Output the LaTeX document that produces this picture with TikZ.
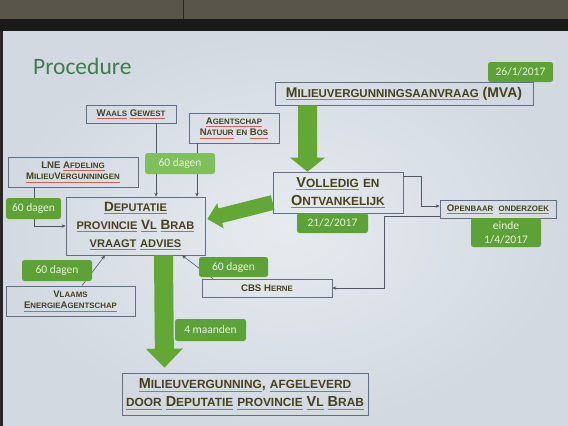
\documentclass[tikz,border=0pt]{standalone}
\usepackage{fontspec}
\setmainfont{Liberation Sans}
\newfontfamily\calfont{Carlito}
\usetikzlibrary{calc,arrows.meta}
\makeatletter
\newdimen\scdim
\newcommand\sm[1]{{\scdim=\f@size pt\scdim=0.82\scdim\fontsize{\the\scdim}{\the\scdim}\selectfont #1}}
\makeatother
\definecolor{bandc}{HTML}{58554A}
\definecolor{txt}{HTML}{45421C}
\definecolor{gfill}{HTML}{5DA236}
\definecolor{gfilllight}{HTML}{80C05C}
\definecolor{gtext}{HTML}{EAF4E2}
\definecolor{agreen}{HTML}{63A834}
\definecolor{bordc}{HTML}{5F6F86}
\definecolor{conc}{HTML}{505860}
\definecolor{titlec}{HTML}{3F7D4E}
\definecolor{slidein}{HTML}{E6EBEF}
\definecolor{slideout}{HTML}{D2D9E1}
\definecolor{redul}{HTML}{D0605A}
\newcommand\ul[1]{\leavevmode\setbox0\hbox{#1}\rlap{\raisebox{-2.2pt}{\color{redul}\rule{\wd0}{0.5pt}}}\box0\relax}
\newcommand\bigarrow[5]{%
  \coordinate (bahc) at ($(#2)!#5!(#1)$);
  \fill[garrow] ($(#1)!#3!90:(#2)$) -- ($(bahc)!#3!90:(#2)$) -- ($(bahc)!#4!90:(#2)$) -- (#2)
     -- ($(bahc)!#4!-90:(#2)$) -- ($(bahc)!#3!-90:(#2)$) -- ($(#1)!#3!-90:(#2)$) -- cycle;}
\begin{document}
\begin{tikzpicture}[x=1pt,y=-1pt,
  box/.style={draw=bordc, line width=0.7pt, align=center, text=txt, inner sep=0pt},
  smallbox/.style={box, font=\bfseries\fontsize{9.6}{11.5}\selectfont},
  gbox/.style={fill=gfill, rounded corners=2.5pt, text=gtext, inner sep=0pt, align=center,
    font=\calfont\fontsize{11.5}{13.5}\selectfont},
  con/.style={draw=conc, line width=0.6pt, -{Stealth[length=4pt,width=3.5pt]}},
  garrow/.style={fill=agreen}]
\useasboundingbox (0,0) rectangle (568,426);
% background
\fill[bandc] (0,0) rectangle (568,20);
\draw[black!85, line width=1pt] (183,0) -- (183,19);
\fill[black!90] (0,19) rectangle (568,31);
\fill[black!85] (0,31) rectangle (3,426);
\shade[inner color=slidein, outer color=slideout] (3,31) rectangle (568,426);
% title
\node[font=\calfont\fontsize{23.5}{28}\selectfont, text=titlec, anchor=base west, inner sep=0pt] (title) at (33,74) {Procedure};
% boxes
\node[box, minimum width=258pt, minimum height=23pt, font=\bfseries\fontsize{14}{16}\selectfont] (mva) at (404,93.5) {\ul{M\sm{ILIEUVERGUNNINGSAANVRAAG}} (MVA)};
\node[box, minimum width=130pt, minimum height=41pt, font=\bfseries\fontsize{14.5}{17.5}\selectfont] (vol) at (338,192.5) {\ul{V\sm{OLLEDIG}} \sm{EN}\\\ul{O\sm{NTVANKELIJK}}};
\node[smallbox, minimum width=116pt, minimum height=18pt] (open) at (498,209) {\ul{O\sm{PENBAAR}}\ \ \ul{\sm{ONDERZOEK}}};
\node[box, minimum width=139pt, minimum height=58pt, font=\bfseries\fontsize{13.5}{18}\selectfont] (dep) at (135.5,226) {\ul{D\sm{EPUTATIE}}\\\ul{\sm{PROVINCIE}} \ul{V\sm{L}} \ul{B\sm{RAB}}\\\ul{\sm{VRAAGT}} \ul{\sm{ADVIES}}};
\node[smallbox, minimum width=90pt, minimum height=18pt] (waals) at (131,114) {\ul{W\sm{AALS}} \ul{G\sm{EWEST}}};
\node[smallbox, minimum width=90pt, minimum height=30pt] (agent) at (234,128) {\ul{A\sm{GENTSCHAP}}\\\ul{N\sm{ATUUR}} \sm{EN} \ul{B\sm{OS}}};
\node[smallbox, minimum width=130pt, minimum height=30pt] (lne) at (73,172) {LNE \ul{A\sm{FDELING}}\\\ul{M\sm{ILIEU}V\sm{ERGUNNINGEN}}};
\node[smallbox, minimum width=129pt, minimum height=30pt] (vea) at (70.5,301) {V\sm{LAAMS}\\\ul{E\sm{NERGIE}A\sm{GENTSCHAP}}};
\node[smallbox, minimum width=130pt, minimum height=18pt] (cbs) at (267,288) {CBS H\sm{ERNE}};
\node[box, minimum width=246pt, minimum height=42pt, font=\bfseries\fontsize{14.5}{18}\selectfont] (final) at (245,394) {\ul{M\sm{ILIEUVERGUNNING}}, \ul{\sm{AFGELEVERD}}\\\ul{\sm{DOOR}} \ul{D\sm{EPUTATIE}} \ul{\sm{PROVINCIE}} \ul{V\sm{L}} \ul{B\sm{RAB}}};
% thin connectors
\coordinate (w1) at ([xshift=25pt]waals.south);
\draw[con] (w1) -- (w1 |- dep.north);
\coordinate (a1) at ([xshift=-37pt]agent.south);
\draw[con] (a1) -- (a1 |- dep.north);
\coordinate (l1) at ([xshift=-39pt]lne.south);
\draw[con] (l1) |- (dep.west);
\coordinate (v1) at ([xshift=11.5pt]vea.north);
\coordinate (v2) at ([xshift=-30.5pt]dep.south);
\draw[con] (v1) -- (v2);
\coordinate (c1) at ([xshift=-54pt]cbs.north);
\coordinate (c2) at ([xshift=46.5pt]dep.south);
\draw[con] (c1) -- (c2);
\coordinate (o1) at ([yshift=16.5pt]vol.east);
\coordinate (o2) at ([yshift=3pt]open.west);
\draw[con] (o1) -- ++(18,0) |- (o2);
\coordinate (o3) at ([yshift=-7pt]open.west);
\draw[con] (o3) -- ++(-55,0) |- (cbs.east);
% green labels
\node[gbox, minimum width=65pt, minimum height=20pt] (d26) at (520.5,72) {26/1/2017};
\node[gbox, minimum width=71pt, minimum height=20pt] (d21) at (332.5,223) {21/2/2017};
\node[gbox, minimum width=70pt, minimum height=29pt, font=\calfont\fontsize{11.5}{14.5}\selectfont] (einde) at (506,232.5) {einde\\1/4/2017};
\node[gbox, fill=gfilllight, minimum width=70pt, minimum height=21pt] (g60top) at (180,163.5) {60 dagen};
\node[gbox, minimum width=55pt, minimum height=21pt] (g60left) at (33.5,208.5) {60 dagen};
\node[gbox, minimum width=70pt, minimum height=21pt] (g60ll) at (57,270.5) {60 dagen};
\node[gbox, minimum width=69pt, minimum height=20pt] (g60lr) at (233.5,267) {60 dagen};
\node[gbox, minimum width=71pt, minimum height=22pt] (g4m) at (210.5,330) {4 maanden};
% big green arrows
\coordinate (b1s) at ([xshift=-96.5pt]mva.south);
\coordinate (b1e) at ([xshift=-30.5pt]vol.north);
\bigarrow{b1s}{b1e}{9.5pt}{17.5pt}{14pt}
\coordinate (b2s) at ([yshift=-10pt]vol.west);
\coordinate (b2e) at ([shift={(2pt,7pt)}]dep.east);
\bigarrow{b2s}{b2e}{7.5pt}{13pt}{13.5pt}
\coordinate (b3s) at ([xshift=28pt]dep.south);
\coordinate (b3e) at ([shift={(-80.5pt,5pt)}]final.north);
\bigarrow{b3s}{b3e}{9.5pt}{18.5pt}{19pt}
\end{tikzpicture}
\end{document}
